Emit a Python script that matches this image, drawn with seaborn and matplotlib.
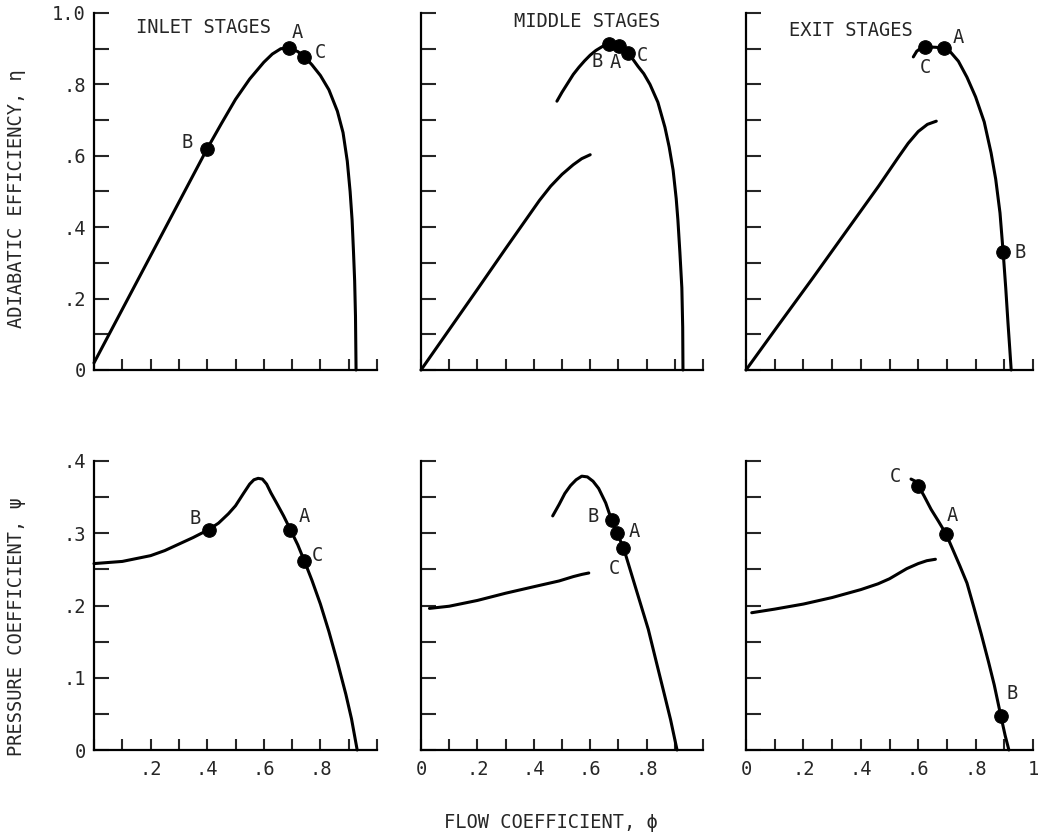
import matplotlib
matplotlib.use("Agg")
import matplotlib.pyplot as plt
import matplotlib.transforms as mtransforms
import seaborn as sns

# ---- data (flow coefficient phi vs eta / psi) ----
# top row: adiabatic efficiency
inlet_eta_x = [0, 0.1, 0.2, 0.3, 0.4, 0.45, 0.5, 0.55, 0.6, 0.63, 0.66, 0.69, 0.72,
               0.743, 0.77, 0.8, 0.83, 0.86, 0.88, 0.895, 0.905, 0.912, 0.917,
               0.921, 0.924, 0.926]
inlet_eta_y = [0.02, 0.17, 0.32, 0.47, 0.62, 0.69, 0.758, 0.815, 0.862, 0.885, 0.9,
               0.902, 0.892, 0.878, 0.855, 0.825, 0.785, 0.725, 0.665, 0.585, 0.5,
               0.42, 0.33, 0.25, 0.15, 0.0]

middle_eta_lo_x = [0, 0.1, 0.2, 0.3, 0.42, 0.46, 0.5, 0.54, 0.57, 0.6]
middle_eta_lo_y = [0, 0.113, 0.226, 0.34, 0.475, 0.515, 0.548, 0.575, 0.592, 0.603]
middle_eta_hi_x = [0.482, 0.5, 0.52, 0.54, 0.56, 0.58, 0.6, 0.62, 0.645, 0.665,
                   0.685, 0.702, 0.72, 0.734, 0.75, 0.77, 0.79, 0.812, 0.84, 0.865,
                   0.88, 0.894, 0.905, 0.911, 0.918, 0.925, 0.928, 0.929]
middle_eta_hi_y = [0.753, 0.778, 0.803, 0.828, 0.848, 0.866, 0.882, 0.895, 0.907,
                   0.913, 0.912, 0.907, 0.898, 0.887, 0.872, 0.85, 0.83, 0.80, 0.75,
                   0.68, 0.625, 0.56, 0.48, 0.42, 0.33, 0.23, 0.12, 0.0]

exit_eta_lo_x = [0, 0.115, 0.233, 0.347, 0.462, 0.53, 0.565, 0.6, 0.632, 0.663]
exit_eta_lo_y = [0, 0.128, 0.258, 0.386, 0.515, 0.595, 0.635, 0.668, 0.688, 0.697]
exit_eta_hi_x = [0.583, 0.595, 0.61, 0.625, 0.66, 0.69, 0.71, 0.74, 0.77, 0.8, 0.83,
                 0.854, 0.87, 0.885, 0.896, 0.905, 0.913, 0.919, 0.924]
exit_eta_hi_y = [0.877, 0.893, 0.902, 0.905, 0.904, 0.902, 0.893, 0.865, 0.82,
                 0.765, 0.695, 0.608, 0.535, 0.44, 0.33, 0.23, 0.13, 0.06, 0.0]

# bottom row: pressure coefficient
inlet_psi_x = [0, 0.1, 0.2, 0.25, 0.3, 0.35, 0.405, 0.44, 0.475, 0.5, 0.528, 0.55,
               0.565, 0.58, 0.595, 0.61, 0.625, 0.645, 0.67, 0.694, 0.72, 0.743,
               0.77, 0.8, 0.83, 0.86, 0.89, 0.91, 0.93]
inlet_psi_y = [0.258, 0.261, 0.269, 0.276, 0.285, 0.294, 0.305, 0.314, 0.327,
               0.338, 0.355, 0.368, 0.374, 0.376, 0.375, 0.368, 0.356, 0.342,
               0.324, 0.305, 0.284, 0.262, 0.235, 0.202, 0.164, 0.122, 0.077,
               0.043, 0.0]

middle_psi_lo_x = [0.03, 0.1, 0.2, 0.3, 0.4, 0.49, 0.54, 0.57, 0.595]
middle_psi_lo_y = [0.196, 0.199, 0.207, 0.217, 0.226, 0.234, 0.24, 0.243, 0.245]
middle_psi_hi_x = [0.467, 0.49, 0.51, 0.53, 0.55, 0.57, 0.59, 0.61, 0.63, 0.655,
                   0.676, 0.694, 0.718, 0.76, 0.806, 0.835, 0.863, 0.885, 0.908]
middle_psi_hi_y = [0.324, 0.34, 0.355, 0.366, 0.374, 0.379, 0.378, 0.372, 0.362,
                   0.342, 0.318, 0.301, 0.28, 0.226, 0.167, 0.121, 0.077, 0.042, 0.0]

exit_psi_lo_x = [0.02, 0.1, 0.2, 0.3, 0.4, 0.46, 0.5, 0.53, 0.56, 0.6, 0.63, 0.66]
exit_psi_lo_y = [0.19, 0.195, 0.202, 0.211, 0.222, 0.23, 0.237, 0.244, 0.251,
                 0.258, 0.262, 0.264]
exit_psi_hi_x = [0.575, 0.59, 0.6, 0.62, 0.645, 0.67, 0.697, 0.72, 0.745, 0.77,
                 0.795, 0.82, 0.845, 0.865, 0.888, 0.903, 0.916]
exit_psi_hi_y = [0.375, 0.372, 0.366, 0.352, 0.333, 0.317, 0.299, 0.278, 0.255,
                 0.231, 0.196, 0.16, 0.122, 0.09, 0.047, 0.02, 0.0]

# operating points A, B, C
point_names = ["A", "B", "C"]
inlet_eta_pts = ([0.69, 0.40, 0.743], [0.902, 0.62, 0.878])
middle_eta_pts = ([0.702, 0.665, 0.734], [0.907, 0.913, 0.887])
exit_eta_pts = ([0.69, 0.896, 0.625], [0.902, 0.33, 0.905])
inlet_psi_pts = ([0.694, 0.405, 0.743], [0.305, 0.305, 0.262])
middle_psi_pts = ([0.694, 0.676, 0.718], [0.301, 0.318, 0.28])
exit_psi_pts = ([0.697, 0.888, 0.6], [0.299, 0.047, 0.366])

# where the A/B/C letters sit
inlet_eta_lbl = ([0.72, 0.33, 0.80], [0.944, 0.636, 0.888])
middle_eta_lbl = ([0.688, 0.624, 0.784], [0.86, 0.863, 0.882])
exit_eta_lbl = ([0.74, 0.955, 0.625], [0.93, 0.33, 0.846])
inlet_psi_lbl = ([0.743, 0.356, 0.79], [0.323, 0.321, 0.269])
middle_psi_lbl = ([0.757, 0.61, 0.687], [0.302, 0.323, 0.251])
exit_psi_lbl = ([0.72, 0.927, 0.52], [0.325, 0.078, 0.378])

titles = ["INLET STAGES", "MIDDLE STAGES", "EXIT STAGES"]

sns.set_theme(style="white")
plt.rcParams["font.family"] = ["DejaVu Sans Mono", "DejaVu Sans"]
FS = 13.5

W, H = 1040, 836
fig = plt.figure(figsize=(W / 100, H / 100), dpi=100)

cols_px = [(94, 377), (421, 703), (746, 1033)]
rows_px = [(13, 370), (461, 750)]


def make_ax(col, row):
    x0, x1 = cols_px[col]
    yt, yb = rows_px[row]
    return fig.add_axes([x0 / W, 1 - yb / H, (x1 - x0) / W, (yb - yt) / H])


def style_ax(ax, row, col):
    ax.set_xlim(0, 1.0)
    for s in ["top", "right"]:
        ax.spines[s].set_visible(False)
    for s in ["left", "bottom"]:
        ax.spines[s].set_linewidth(1.6)
        ax.spines[s].set_color("black")
    ax.set_xticks([i / 10 for i in range(11)])
    if row == 0:
        ax.set_ylim(0, 1.0)
        ax.set_yticks([i / 10 for i in range(11)])
        if col == 0:
            ax.set_yticklabels(["0", "", ".2", "", ".4", "", ".6", "", ".8", "", "1.0"])
        else:
            ax.set_yticklabels([])
        ax.set_xticklabels([])
    else:
        ax.set_ylim(0, 0.4)
        ax.set_yticks([i / 20 for i in range(9)])
        if col == 0:
            ax.set_yticklabels(["0", "", ".1", "", ".2", "", ".3", "", ".4"])
            xl = ["", "", ".2", "", ".4", "", ".6", "", ".8", "", ""]
        elif col == 1:
            ax.set_yticklabels([])
            xl = ["0", "", ".2", "", ".4", "", ".6", "", ".8", "", ""]
        else:
            ax.set_yticklabels([])
            xl = ["0", "", ".2", "", ".4", "", ".6", "", ".8", "", "1"]
        ax.set_xticklabels(xl)
        # typewriter style: the digit sits on the tick, the dot hangs left
        for t in ax.get_xticklabels():
            txt = t.get_text()
            dx = -4 if txt.startswith(".") else (5 if txt == "0" else 0)
            t.set_transform(t.get_transform() + mtransforms.ScaledTranslation(
                dx / 100, 0, fig.dpi_scale_trans))
    ax.tick_params(axis="y", direction="in", length=11, width=1.5, pad=6,
                   labelsize=FS, left=True)
    ax.tick_params(axis="x", direction="in", length=8, width=1.5, pad=7,
                   labelsize=FS, bottom=True)
    ax.set_xlabel("")
    ax.set_ylabel("")


def draw(ax, curves, pts, lbl):
    for cx, cy in curves:
        sns.lineplot(x=cx, y=cy, ax=ax, color="black", linewidth=2.2,
                     sort=False, estimator=None)
    for ln in ax.lines:
        ln.set_clip_on(False)
        ln.set_solid_joinstyle("round")
    sns.scatterplot(x=pts[0], y=pts[1], ax=ax, color="black", s=95,
                    edgecolor="black", zorder=4, clip_on=False)
    for name, tx, ty in zip(point_names, lbl[0], lbl[1]):
        ax.text(tx, ty, name, ha="center", va="center", fontsize=FS)


panels = [
    (0, 0, [(inlet_eta_x, inlet_eta_y)], inlet_eta_pts, inlet_eta_lbl),
    (0, 1, [(middle_eta_lo_x, middle_eta_lo_y), (middle_eta_hi_x, middle_eta_hi_y)],
     middle_eta_pts, middle_eta_lbl),
    (0, 2, [(exit_eta_lo_x, exit_eta_lo_y), (exit_eta_hi_x, exit_eta_hi_y)],
     exit_eta_pts, exit_eta_lbl),
    (1, 0, [(inlet_psi_x, inlet_psi_y)], inlet_psi_pts, inlet_psi_lbl),
    (1, 1, [(middle_psi_lo_x, middle_psi_lo_y), (middle_psi_hi_x, middle_psi_hi_y)],
     middle_psi_pts, middle_psi_lbl),
    (1, 2, [(exit_psi_lo_x, exit_psi_lo_y), (exit_psi_hi_x, exit_psi_hi_y)],
     exit_psi_pts, exit_psi_lbl),
]

title_pos = [(0.15, 0.96), (0.33, 0.975), (0.15, 0.952)]

for row, col, curves, pts, lbl in panels:
    ax = make_ax(col, row)
    draw(ax, curves, pts, lbl)
    style_ax(ax, row, col)
    if row == 0:
        tx, ty = title_pos[col]
        ax.text(tx, ty, titles[col], ha="left", va="center", fontsize=FS)

fig.text(17 / W, 1 - 199 / H, "ADIABATIC EFFICIENCY, η", rotation=90,
         ha="center", va="center", fontsize=FS)
fig.text(17 / W, 1 - 627 / H, "PRESSURE COEFFICIENT, ψ", rotation=90,
         ha="center", va="center", fontsize=FS)
fig.text(551 / W, 1 - 822 / H, "FLOW COEFFICIENT, ϕ", ha="center", va="center",
         fontsize=FS)

fig.savefig("out.png", dpi=100)
